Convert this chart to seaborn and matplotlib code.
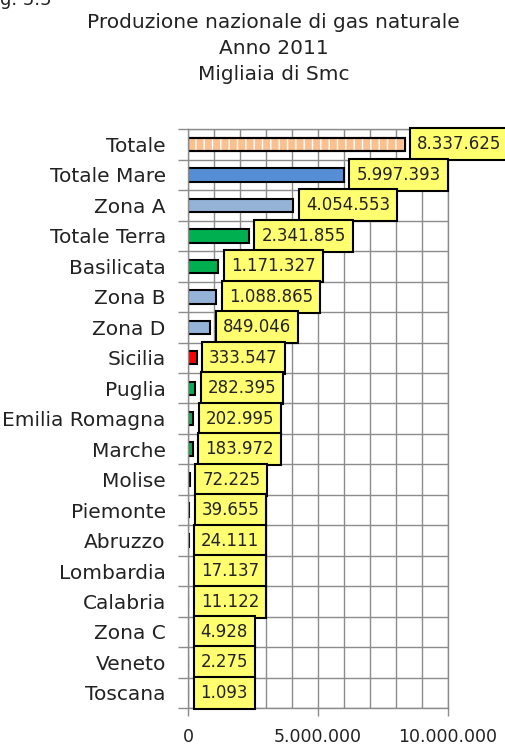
import matplotlib
matplotlib.use("Agg")
import matplotlib.colors as mcolors
import matplotlib.pyplot as plt
import numpy as np
import seaborn as sns
from matplotlib.ticker import FixedLocator, FuncFormatter, MultipleLocator

# data (migliaia di Smc, anno 2011)
categories = [
    "Totale", "Totale Mare", "Zona A", "Totale Terra", "Basilicata", "Zona B",
    "Zona D", "Sicilia", "Puglia", "Emilia Romagna", "Marche", "Molise",
    "Piemonte", "Abruzzo", "Lombardia", "Calabria", "Zona C", "Veneto", "Toscana",
]
values = [
    8337625, 5997393, 4054553, 2341855, 1171327, 1088865,
    849046, 333547, 282395, 202995, 183972, 72225,
    39655, 24111, 17137, 11122, 4928, 2275, 1093,
]
bar_colors = [
    "#FAC090", "#558ED5", "#95B3D7", "#00B050", "#00B050", "#95B3D7",
    "#95B3D7", "#FF0000", "#00B050", "#00B050", "#00B050", "#00B050",
    "#00B050", "#00B050", "#00B050", "#00B050", "#95B3D7", "#00B050", "#00B050",
]
x_ticks = [0, 5000000, 10000000]


def it_num(v, pos=None):
    return f"{int(v):,}".replace(",", ".")


sns.set_style("white")
plt.rcParams["font.family"] = ["DejaVu Sans"]

fig = plt.figure(figsize=(5.06, 7.47), dpi=100)
ax = fig.add_axes([0.3715, 0.052, 0.5135, 0.775])

sns.barplot(
    x=values,
    y=categories,
    hue=categories,
    palette=bar_colors,
    orient="h",
    width=0.44,
    edgecolor="black",
    linewidth=1.5,
    legend=False,
    saturation=1,
    ax=ax,
)

# "Totale" bar gets the dotted/stripe fill
p = ax.patches[0]
p.set_hatch("||")
if hasattr(p, "set_hatchcolor"):
    p.set_hatchcolor("white")
else:
    p._hatch_color = mcolors.to_rgba("white")
ax.add_patch(plt.Rectangle((p.get_x(), p.get_y()), p.get_width(), p.get_height(),
                           fill=False, edgecolor="black", linewidth=1.5, zorder=p.get_zorder() + 0.1))

# value labels in yellow boxes
for i, v in enumerate(values):
    ax.annotate(
        it_num(v), xy=(v, i), xytext=(9, 0), textcoords="offset points",
        ha="left", va="center", fontsize=12, color="#222222",
        bbox=dict(boxstyle="square,pad=0.42", fc="#FFFF70", ec="black", lw=1.5),
        zorder=5,
    )

ax.set_xlim(0, 10000000)
ax.set_ylim(len(categories) - 0.5, -0.5)
ax.xaxis.set_major_locator(FixedLocator(x_ticks))
ax.xaxis.set_minor_locator(MultipleLocator(1000000))
ax.xaxis.set_major_formatter(FuncFormatter(it_num))
ax.yaxis.set_minor_locator(FixedLocator(np.arange(-0.5, len(categories), 1)))

ax.grid(which="minor", color="#8C8C8C", linewidth=1)
ax.grid(which="major", axis="x", color="#8C8C8C", linewidth=1)
ax.grid(which="major", axis="y", visible=False)
ax.set_axisbelow(True)

ax.tick_params(axis="y", which="major", length=0, pad=16, labelsize=14.5, labelcolor="#222222")
ax.tick_params(axis="y", which="minor", length=7, color="#8C8C8C", width=1, direction="out", left=True)
ax.tick_params(axis="x", which="major", length=6, color="#8C8C8C", width=1, pad=8,
               labelsize=12.5, labelcolor="#222222", bottom=True)
ax.tick_params(axis="x", which="minor", length=0)
ax.set_xlabel("")
ax.set_ylabel("")
for s in ax.spines.values():
    s.set_color("#8C8C8C")
    s.set_linewidth(1)

fig.text(0.541, 1 - 22 / 747, "Produzione nazionale di gas naturale", ha="center", va="center",
         fontsize=14.5, color="#222222")
fig.text(0.541, 1 - 48 / 747, "Anno 2011", ha="center", va="center", fontsize=14.5, color="#222222")
fig.text(0.541, 1 - 75 / 747, "Migliaia di Smc", ha="center", va="center", fontsize=14.5, color="#222222")
fig.text(0.0, 1.0, "g. 5.5", ha="left", va="center", fontsize=13, color="#222222")

fig.savefig("out.png", dpi=100, facecolor="white")
